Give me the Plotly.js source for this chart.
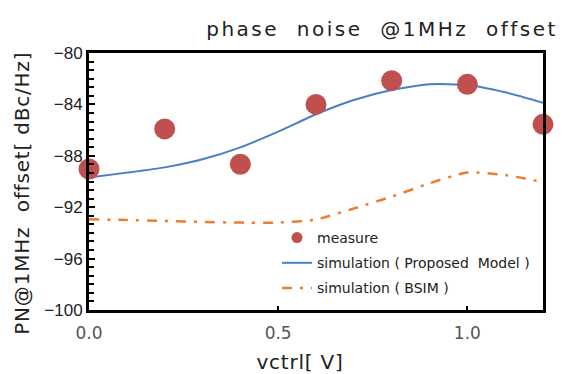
<!DOCTYPE html>
<html>
<head>
<meta charset="utf-8">
<script src="https://cdn.plot.ly/plotly-3.0.1.min.js"></script>
<style>
html,body{margin:0;padding:0;background:#fff;}
#chart{width:565px;height:374px;}
#chart .gtitle{letter-spacing:2.5px;}
#chart .annotation-text-g .annotation-text{letter-spacing:0.8px;}
</style>
</head>
<body>
<div id="chart"></div>
<script>
// measured points
const measureX = [0.0, 0.2, 0.4, 0.6, 0.8, 1.0, 1.2];
const measureY = [-89.03, -85.91, -88.66, -84.0, -82.15, -82.44, -85.55];
// simulation curves
const simX = [0.0, 0.1, 0.2, 0.3, 0.4, 0.5, 0.6, 0.7, 0.8, 0.9, 1.0, 1.1, 1.2];
const proposedY = [-89.68, -89.31, -88.9, -88.27, -87.34, -86.12, -84.77, -83.66, -82.88, -82.44, -82.49, -83.06, -83.87];
const bsimY = [-92.94, -93.0, -93.07, -93.15, -93.2, -93.2, -92.95, -92.1, -91.18, -90.14, -89.3, -89.5, -90.05];
const legendNames = ['measure', 'simulation ( Proposed  Model )', 'simulation ( BSIM )'];
const yTicks = [-80, -84, -88, -92, -96, -100];
const xTicks = [0.0, 0.5, 1.0];

const SANS = 'DejaVu Sans, sans-serif';
const LIB = 'Liberation Sans, Arial, sans-serif';
const NB = '\u00a0';

const traces = [
  {x: simX, y: bsimY, type: 'scatter', mode: 'lines', name: legendNames[2], legendrank: 3, legendgroup: 'c',
   line: {color: '#ED7D31', width: 2.5, dash: '10px,8px,3px,8px', shape: 'spline', smoothing: 0.6}},
  {x: simX, y: proposedY, type: 'scatter', mode: 'lines', name: legendNames[1], legendrank: 2, legendgroup: 'b',
   line: {color: '#4A7EC6', width: 2, shape: 'spline', smoothing: 0.6}},
  {x: measureX, y: measureY, type: 'scatter', mode: 'markers', name: legendNames[0], showlegend: false,
   marker: {color: '#C0504D', size: 21, line: {width: 0}}, cliponaxis: false},
  // legend-only entry for the measured points (smaller legend symbol)
  {x: [null], y: [null], type: 'scatter', mode: 'markers', name: legendNames[0], legendrank: 1, legendgroup: 'a',
   marker: {color: '#C0504D', size: 11, line: {width: 0}}}
];

const W = 565, H = 374, L = 89, R = 22, T = 53, B = 64;
const pw = W - L - R, ph = H - T - B;

const layout = {
  width: W, height: H,
  margin: {l: L, r: R, t: T, b: B, pad: 0},
  paper_bgcolor: '#fff', plot_bgcolor: '#fff',
  font: {family: SANS, color: '#222', size: 16},
  showlegend: true,
  legend: {x: (277 - L) / pw, y: 1 - (222 - T) / ph, xanchor: 'left', yanchor: 'top',
           bgcolor: 'rgba(0,0,0,0)', font: {size: 14, family: SANS, color: '#222'},
           itemwidth: 30, traceorder: 'grouped', tracegroupgap: 4},
  title: {text: 'phase  noise  @1MHz  offset', x: 382 / W, xref: 'container', xanchor: 'center',
          y: 1 - 29 / H, yref: 'container', yanchor: 'middle',
          font: {size: 20, family: SANS, color: '#222'}},
  xaxis: {range: [0, 1.2], tickvals: xTicks, tickformat: '.1f', ticks: 'inside', ticklen: 4,
          tickwidth: 2, tickcolor: '#000', showline: true, linecolor: '#000', linewidth: 3,
          mirror: true, showgrid: false, zeroline: false, ticklabelposition: 'outside', ticklabelstandoff: 6,
          tickfont: {size: 17, color: '#555', family: SANS}},
  yaxis: {range: [-100, -80], tickvals: yTicks, ticks: 'inside', ticklen: 6, tickwidth: 2,
          tickcolor: '#000', showline: true, linecolor: '#000', linewidth: 3, mirror: true,
          showgrid: false, zeroline: false, ticksuffix: NB.repeat(5),
          minor: {dtick: 4 / 6, ticks: 'inside', ticklen: 5, tickwidth: 2, tickcolor: '#000', showgrid: false},
          tickfont: {size: 17, color: '#222', family: LIB}},
  annotations: [
    {text: 'vctrl[ V]', xref: 'paper', yref: 'paper', x: (300 - L) / pw, y: -(362 - T - ph) / ph,
     xanchor: 'center', yanchor: 'middle', showarrow: false, font: {size: 20, family: SANS, color: '#222'}},
    {text: 'PN@1MHz  offset[ dBc/Hz]', xref: 'paper', yref: 'paper', x: -(L - 22) / pw,
     y: 1 - (193 - T) / ph, xanchor: 'center', yanchor: 'middle', textangle: -90, showarrow: false,
     font: {size: 20, family: SANS, color: '#222'}}
  ]
};

Plotly.newPlot('chart', traces, layout, {displayModeBar: false, staticPlot: true});
</script>
</body>
</html>
